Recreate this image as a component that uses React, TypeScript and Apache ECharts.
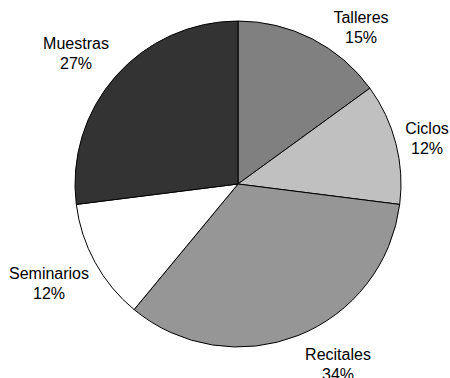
import React, { useEffect, useRef } from "react";
import * as echarts from "echarts";

const categories = ["Talleres", "Ciclos", "Recitales", "Seminarios", "Muestras"];
const percents = [15, 12, 34, 12, 27];
const sliceColors = ["#808080", "#c0c0c0", "#969696", "#ffffff", "#333333"];

// label block centres (px) for each slice, in the same order as categories
const labelCenters: [number, number][] = [
  [361, 27],
  [427, 138],
  [338, 364],
  [49, 283],
  [76, 53],
];

export default function App() {
  const ref = useRef<HTMLDivElement>(null);
  useEffect(() => {
    if (!ref.current) return;
    const chart = echarts.init(ref.current, undefined, { renderer: "svg" });
    chart.setOption({
      animation: false,
      backgroundColor: "#ffffff",
      series: [
        {
          type: "pie",
          center: [238, 184],
          radius: 163,
          startAngle: 90,
          clockwise: true,
          avoidLabelOverlap: false,
          data: categories.map((name, i) => ({
            name,
            value: percents[i],
            itemStyle: { color: sliceColors[i] },
          })),
          itemStyle: { borderColor: "#000000", borderWidth: 1 },
          label: {
            show: true,
            position: "outside",
            formatter: "{b}\n{c}%",
            color: "#000000",
            fontFamily: "Liberation Sans, Arial, sans-serif",
            fontSize: 16,
            lineHeight: 20,
            align: "center",
            overflow: "none",
            width: 120,
          },
          labelLine: { show: false },
          labelLayout: (params: any) => {
            const c = labelCenters[params.dataIndex];
            return {
              x: c[0],
              y: c[1],
              align: "center",
              verticalAlign: "middle",
              hideOverlap: false,
            };
          },
          emphasis: { disabled: true },
        },
      ],
    });
    return () => chart.dispose();
  }, []);
  return (
    <div
      ref={ref}
      style={{ position: "fixed", left: 0, top: 0, width: 450, height: 378 }}
    />
  );
}
